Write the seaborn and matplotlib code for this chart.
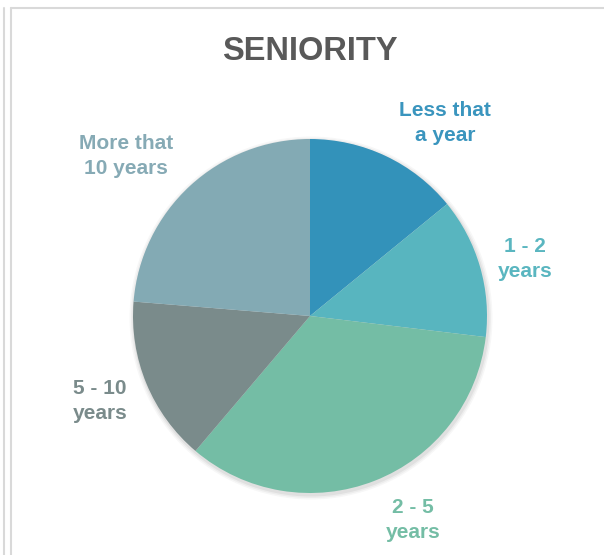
import matplotlib
matplotlib.use("Agg")
import matplotlib.pyplot as plt
import seaborn as sns
from matplotlib.lines import Line2D
from matplotlib.patches import Circle

sns.set_style("white")
plt.rcParams['font.family'] = ['Liberation Sans', 'DejaVu Sans']

categories = ["Less that\na year", "1 - 2\nyears", "2 - 5\nyears", "5 - 10\nyears", "More that\n10 years"]
values = [14.1, 12.8, 34.3, 15.1, 23.7]
colors = ["#3392BA", "#58B5BF", "#74BDA5", "#7A8B8B", "#83AAB4"]
label_colors = ["#3A95BE", "#5AB6C0", "#74BDA5", "#7A8B8B", "#86AAB5"]
label_pos = [(445, 123), (525, 259), (413, 520), (100, 401), (126, 156)]

W, H = 604, 555
fig = plt.figure(figsize=(W / 100, H / 100), dpi=100)
fig.patch.set_facecolor("white")
ax = fig.add_axes([0, 0, 1, 1])
ax.set_xlim(0, W)
ax.set_ylim(0, H)
ax.set_aspect("equal")
ax.axis("off")

cx, cy, r = 310, H - 316, 177

# subtle shadow
for i, a in enumerate([0.05, 0.04, 0.03]):
    ax.add_patch(Circle((cx + 1, cy - 2), r + 1.5 + i * 1.5, color="black", alpha=a, lw=0, zorder=0))

ax.pie(values, colors=colors, startangle=90, counterclock=False,
       center=(cx, cy), radius=r, frame=True,
       wedgeprops=dict(linewidth=0, zorder=1))
ax.set_xlim(0, W)
ax.set_ylim(0, H)
ax.axis("off")

for lab, col, (x, y) in zip(categories, label_colors, label_pos):
    ax.text(x, H - y, lab, color=col, fontsize=15, fontweight="bold",
            ha="center", va="center", linespacing=1.45)

ax.text(310, H - 52, "SENIORITY", color="#595959", fontsize=23.5, fontweight="bold",
        ha="center", va="center")

# frame lines
fc = "#D9D9D9"
fig.add_artist(Line2D([10.5 / W, 10.5 / W], [0, 1 - 8 / H], transform=fig.transFigure, color=fc, lw=1.5))
fig.add_artist(Line2D([10.5 / W, 1], [1 - 8 / H, 1 - 8 / H], transform=fig.transFigure, color=fc, lw=1.5))
fig.add_artist(Line2D([3.5 / W, 3.5 / W], [0, 1 - 8 / H], transform=fig.transFigure, color=fc, lw=1.5))

fig.savefig("out.png", dpi=100, facecolor="white")
